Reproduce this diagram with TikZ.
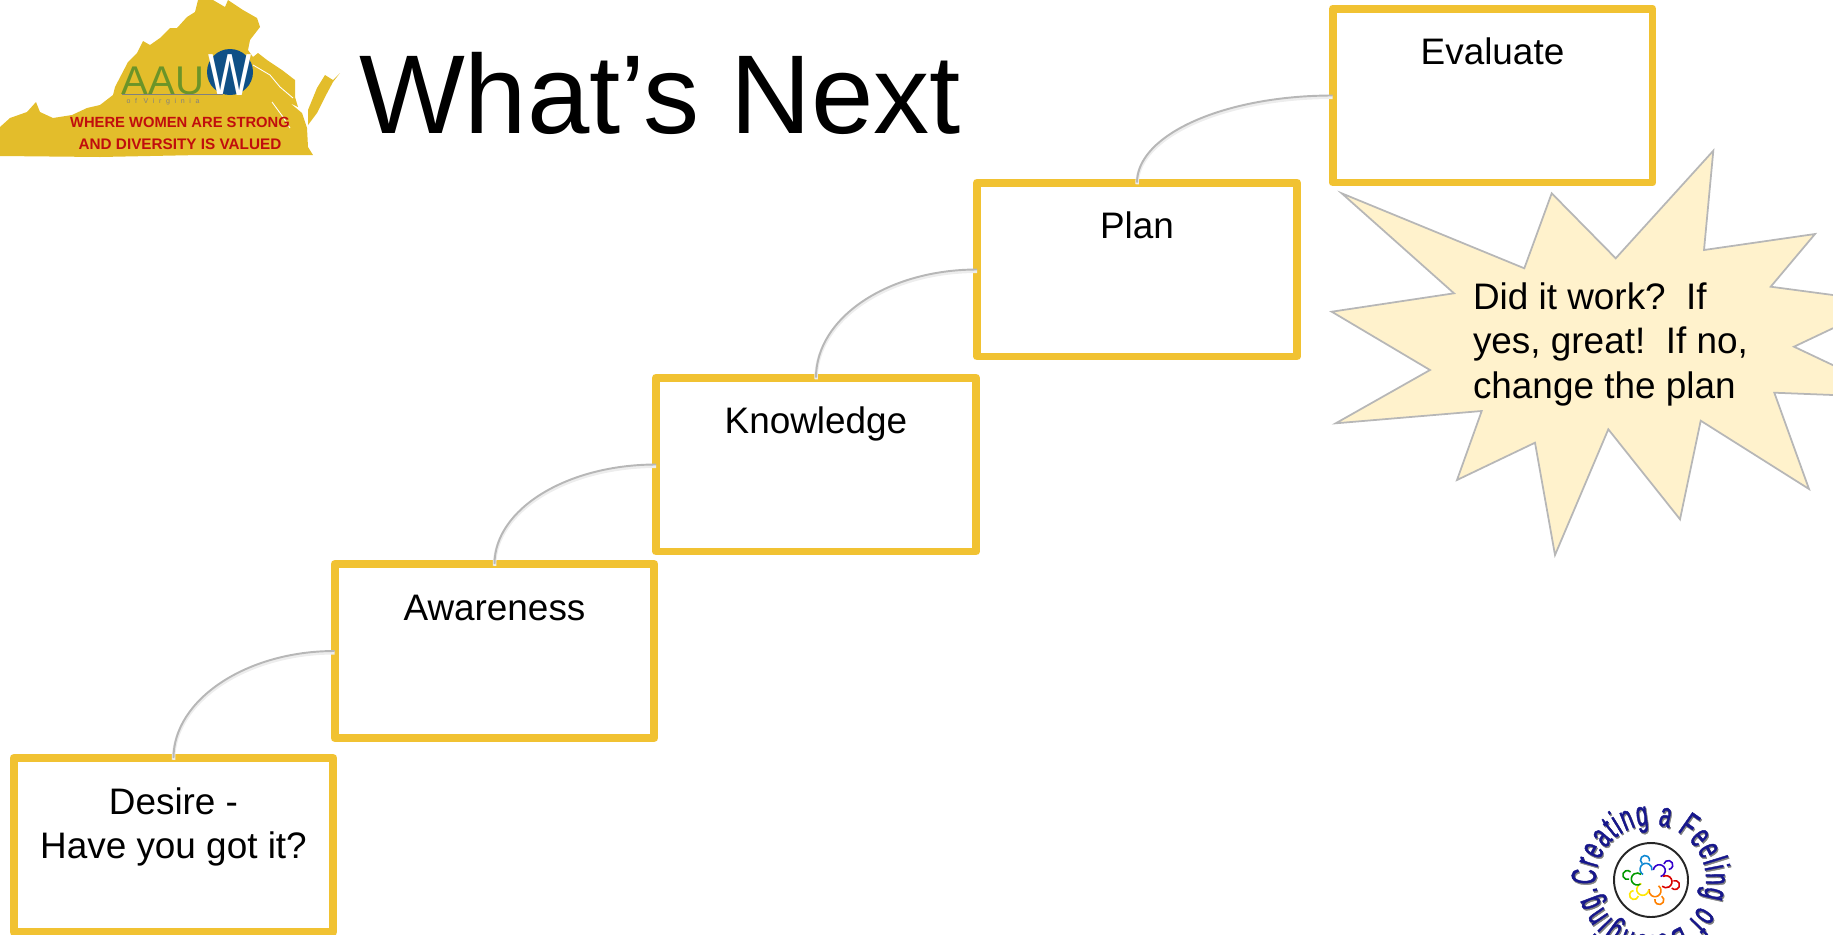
\documentclass[tikz,border=0pt]{standalone}
\usepackage{fontspec}
\setmainfont{Liberation Sans}
\newfontfamily\ringfont[FakeStretch=0.6,FakeBold=1.2]{Liberation Sans}
\newfontfamily\spacedfont[LetterSpace=66]{Liberation Sans}
\usetikzlibrary{positioning, decorations.text}
\definecolor{boxyellow}{HTML}{F1C232}
\definecolor{mapyellow}{HTML}{E3BD2B}
\definecolor{linegray}{HTML}{B7B7B7}
\definecolor{starfill}{HTML}{FFF2CC}
\definecolor{aauwblue}{HTML}{0F5086}
\definecolor{aauwgreen}{HTML}{6B9428}
\definecolor{mottored}{HTML}{C00D0D}
\definecolor{ringblue}{HTML}{17178C}
\begin{document}
\begin{tikzpicture}[
    x=0.02cm, y=-0.02cm,
    stepbox/.style={draw=boxyellow, fill=white, line width=8*0.5669pt, line join=round, inner sep=0pt, outer sep=0pt, text width=6.4cm, text height=1.12cm, text depth=2.36cm, font=\fontsize{21}{25.5}\selectfont\frenchspacing, execute at begin node={\centering\spaceskip=0.278em\relax}},
    link/.style={draw=linegray, line width=1.1pt, preaction={draw=black!7, line width=2pt, transform canvas={yshift=-1pt}}},
    plain/.style={inner sep=0pt, outer sep=0pt, anchor=base},
    person/.style={line width=0.9pt}
]
    \clip (0,0) rectangle (1833,934);

    \fill[mapyellow] (0,127) -- (10,118) -- (27,112) -- (36,102) -- (40,112) -- (53,118) -- (72,115) -- (87,108) -- (100,105) -- (113,95) -- (115,87) -- (128,62) -- (137,53) -- (143,41) -- (150,45) -- (160,38) -- (170,28) -- (177,28) -- (187,17) -- (195,12) -- (198,0) -- (213,0) -- (225,7) -- (228,0) -- (243,10) -- (257,18) -- (260,27) -- (250,40) -- (248,50) -- (253,57) -- (258,53) -- (267,60) -- (282,70) -- (295,80) -- (295,97) -- (298,107) -- (290,103) -- (302,113) -- (307,128) -- (308,147) -- (313,155) -- (200,155) -- (100,157) -- (0,156) -- cycle;
    \fill[mapyellow] (340,73) -- (333,80) -- (325,75) -- (317,88) -- (308,110) -- (308,125) -- (317,113) -- (325,97) -- (333,82) -- cycle;
    \draw[white, line width=0.5pt] (253,65) -- (270,75) -- (280,87) -- (293,98);
    \draw[white, line width=0.5pt] (272,102) -- (283,117) -- (290,128);

    \node[plain, text=aauwgreen, font=\fontsize{22.8}{24}\selectfont] (aau) at (163,94) {AAU};
    \fill[aauwblue] (230,72) circle[radius=23];
    \node[plain, text=white, yscale=1.3, font=\fontsize{26}{28}\selectfont] (aauw) at (230,95) {W};
    \draw[linegray!70!black, line width=0.5pt] (122,94.5) -- (223,94.5);
    \node[plain, text=gray, font=\spacedfont\fontsize{4}{5}\selectfont] (ofvirginia) at (163,103) {of Virginia};
    \node[plain, text=mottored, font=\bfseries\fontsize{8.4}{10}\selectfont] (motto) at (180,127) {WHERE WOMEN ARE STRONG};
    \node[plain, text=mottored, font=\bfseries\fontsize{8.7}{10}\selectfont] (mottob) at (180,149.5) {AND DIVERSITY IS VALUED};

    \node[plain, anchor=base west, font=\fontsize{63.8}{73}\selectfont] (title) at (359,133) {What’s Next};

    \node[stepbox] (desire) at (173.5,845) {Desire -\\Have you got it?};
    \node[stepbox] (awareness) at (494.5,651) {Awareness};
    \node[stepbox] (knowledge) at (816,464.5) {Knowledge};
    \node[stepbox] (plan) at (1137,269.5) {Plan};
    \node[stepbox] (evaluate) at (1492.5,95.5) {Evaluate};

    \draw[link] (desire.north) .. controls +(0,-58.5) and +(-88,0) .. (awareness.west);
    \draw[link] (awareness.north) .. controls +(0,-55) and +(-89,0) .. (knowledge.west);
    \draw[link] (knowledge.north) .. controls +(0,-60) and +(-89,0) .. (plan.west);
    \draw[link] (plan.north) .. controls +(0,-48) and +(-108,0) .. (evaluate.west);

    \draw[fill=starfill, draw=linegray, line width=1pt] (1341.7,193.3) -- (1524.3,268.3) -- (1551.7,193.3) -- (1615.7,258.3) -- (1713.3,150.7) -- (1704,250) -- (1815,234) -- (1770.7,286.7) -- (1887.7,302.3) -- (1794,346.7) -- (1901.7,397.7) -- (1774.3,392.7) -- (1809,489) -- (1700.7,420.7) -- (1680,519.3) -- (1608.3,429.3) -- (1555,555) -- (1535,442.7) -- (1457,480) -- (1481.7,411) -- (1335.7,423.3) -- (1430,370) -- (1331.7,311.7) -- (1454,293.3) -- cycle;
    \node[plain, anchor=base west, text width=6.4cm, font=\fontsize{21}{25.5}\selectfont\frenchspacing, execute at begin node={\raggedright\spaceskip=0.278em\relax}] (starnote) at (1473,309) {Did it work?~ If\\yes, great!~ If no,\\change the plan};

    \draw[black!85, line width=1.1pt] (1651,880) circle[radius=37];
    \path[decorate, decoration={text along path, text align=fit to path, text={|\ringfont\fontsize{20}{22}\selectfont\color{gray}|Creating a Feeling of Belonging.}}] (1652,881.5) ++(175:55) arc[start angle=175, delta angle=358, radius=55];
    \path[decorate, decoration={text along path, text align=fit to path, text={|\ringfont\fontsize{20}{22}\selectfont\color{ringblue}|Creating a Feeling of Belonging.}}] (1651,880) ++(175:55) arc[start angle=175, delta angle=358, radius=55];

    \draw[person, cyan!70!blue] (1646,869.3) ++(120:6) arc[start angle=120, delta angle=250, radius=6];
    \draw[person, cyan!70!blue] (1645,860) ++(128:4.5) arc[start angle=128, delta angle=250, radius=4.5];
    \draw[person, blue!60!violet] (1659.3,870.7) ++(187:6) arc[start angle=187, delta angle=250, radius=6];
    \draw[person, blue!60!violet] (1668.3,865) ++(194:4.5) arc[start angle=194, delta angle=250, radius=4.5];
    \draw[person, red!85!black] (1666,881.7) ++(241:6) arc[start angle=241, delta angle=250, radius=6];
    \draw[person, red!85!black] (1675,885) ++(247:4.5) arc[start angle=247, delta angle=250, radius=4.5];
    \draw[person, orange] (1655,890.7) ++(305:6) arc[start angle=305, delta angle=250, radius=6];
    \draw[person, orange] (1659.3,900) ++(302:4.5) arc[start angle=302, delta angle=250, radius=4.5];
    \draw[person, yellow!90!orange] (1642.7,889.3) ++(7:6) arc[start angle=7, delta angle=250, radius=6];
    \draw[person, yellow!90!orange] (1634,895) ++(14:4.5) arc[start angle=14, delta angle=250, radius=4.5];
    \draw[person, green!60!black] (1637.3,879) ++(59:6) arc[start angle=59, delta angle=250, radius=6];
    \draw[person, green!60!black] (1627.3,875) ++(67:4.5) arc[start angle=67, delta angle=250, radius=4.5];
\end{tikzpicture}
\end{document}
